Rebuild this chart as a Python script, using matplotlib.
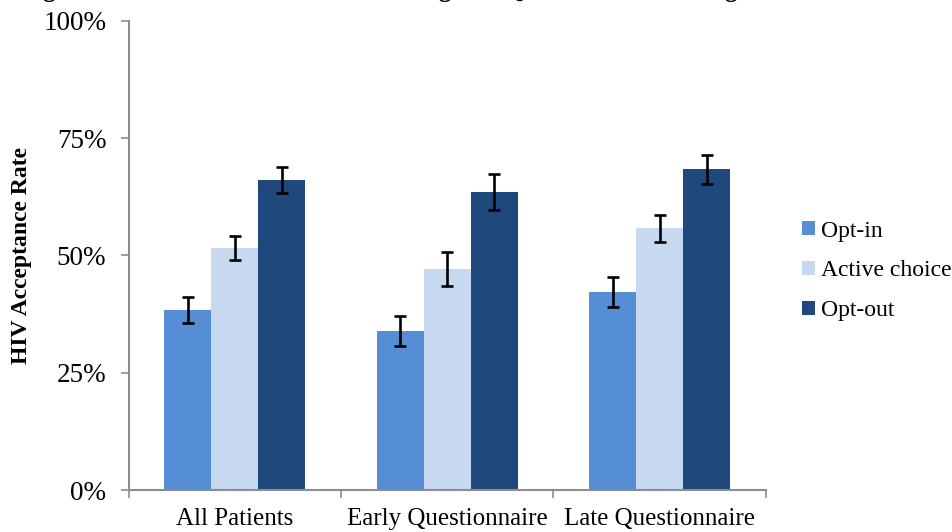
import numpy as np
import matplotlib
matplotlib.use("Agg")
import matplotlib.pyplot as plt

groups = ["All Patients", "Early Questionnaire", "Late Questionnaire"]
series = ["Opt-in", "Active choice", "Opt-out"]
opt_in = [38.4, 34.0, 42.3]
active_choice = [51.6, 47.1, 55.8]
opt_out = [66.1, 63.5, 68.4]
err_opt_in = [2.7, 3.2, 3.2]
err_active = [2.5, 3.7, 2.9]
err_opt_out = [2.8, 3.8, 3.1]
colors = ["#558ED5", "#C6D9F1", "#1F497D"]
yticks = [0, 25, 50, 75, 100]

plt.rcParams['font.family'] = ['Liberation Serif', 'DejaVu Serif']

fig = plt.figure(figsize=(9.52, 5.32), dpi=100)
ax = fig.add_axes([128.5 / 952, 1 - 490 / 532, (766 - 128.5) / 952, (490 - 21) / 532])

x = np.arange(len(groups))
w = 0.221
vals = [opt_in, active_choice, opt_out]
errs = [err_opt_in, err_active, err_opt_out]
for i, (v, e) in enumerate(zip(vals, errs)):
    ax.bar(x + (i - 1) * w, v, w, color=colors[i], label=series[i], zorder=2)
    ax.errorbar(x + (i - 1) * w, v, yerr=e, fmt='none', ecolor='black',
                elinewidth=1.9, capsize=4, capthick=1.9, zorder=3)

ax.set_xlim(-0.5, 2.5)
ax.set_ylim(0, 100)
ax.set_yticks(yticks)
ax.set_yticklabels([f"{t}%" for t in yticks], fontsize=19.5)
ax.set_xticks(x)
ax.set_xticklabels(groups, fontsize=18)
ax.set_xticks([-0.5, 0.5, 1.5, 2.5], minor=True)
ax.tick_params(axis='x', which='major', length=0, pad=13)
ax.tick_params(axis='x', which='minor', length=6, width=1.2, color='#8c8c8c')
ax.tick_params(axis='y', length=6, width=1.2, color='#8c8c8c', pad=10)
for s in ['top', 'right']:
    ax.spines[s].set_visible(False)
for s in ['left', 'bottom']:
    ax.spines[s].set_color('#8c8c8c')
    ax.spines[s].set_linewidth(1.5)

fig.text(22 / 952, 1 - 255 / 532, "HIV Acceptance Rate", rotation=90,
         fontsize=17, fontweight='bold', ha='center', va='center')

# title is cut off at the top edge of the image, only descenders show
fig.text(21 / 952, 1.0 + 3 / 532, "Figure 2: Default Effects on HIV Testing and Questionnaire Timing",
         fontsize=18, fontweight='bold', ha='left', va='baseline')

ax.legend(loc='center left', bbox_to_anchor=(802 / 952, 1 - 271 / 532),
          bbox_transform=fig.transFigure, frameon=False, fontsize=17,
          handlelength=0.55, handleheight=0.55, handletextpad=0.25,
          labelspacing=0.8, borderpad=0, borderaxespad=0)

fig.savefig("out.png", dpi=100)
